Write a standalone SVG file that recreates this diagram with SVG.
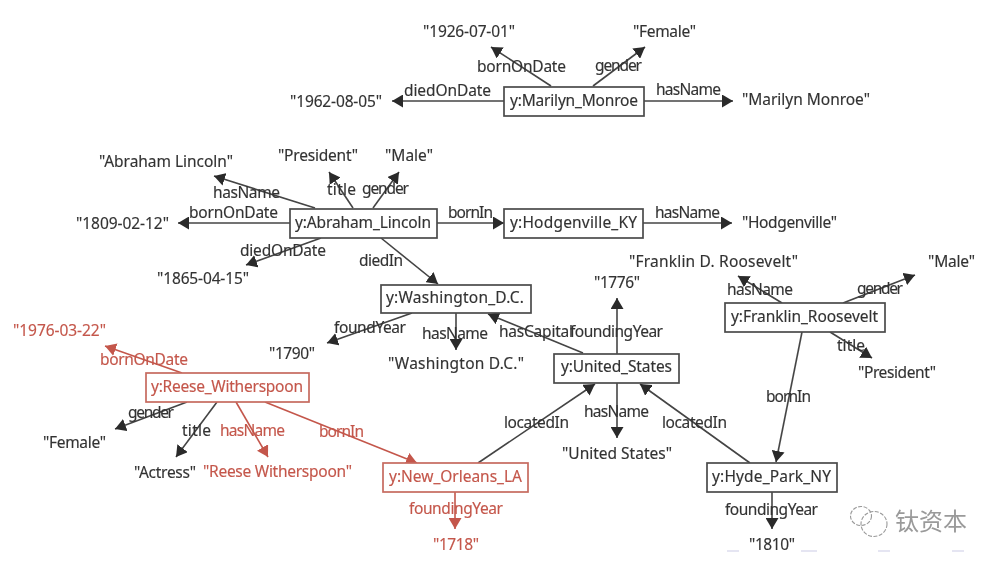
<svg xmlns="http://www.w3.org/2000/svg" width="1000" height="565" viewBox="0 0 1000 565">
<style>
text{font-family:"Noto Sans","DejaVu Sans",sans-serif;font-size:15.5px;fill:#333;stroke:#333;stroke-width:0.15}
.r text,text.r{fill:#c4574b;stroke:#c4574b}
rect{fill:#fff;stroke:#4a4a4a;stroke-width:1.7}
.r rect{stroke:#c66a5f}
.e{stroke:#444;stroke-width:1.6;fill:none;marker-end:url(#a)}
.e.r{stroke:#c4574b;marker-end:url(#b)}
.wm{fill:none;stroke:#999;stroke-width:1.1;stroke-dasharray:4 1.5}
text.wt{font-family:"Noto Sans CJK SC",sans-serif;font-size:24px;fill:#9a9a9a;stroke:none}
.f{stroke:#dde;stroke-width:1.5}
</style>
<defs>
<marker id="a" markerUnits="userSpaceOnUse" markerWidth="12" markerHeight="13" refX="11" refY="6.5" orient="auto"><path d="M0,0L11,6.5L0,13z" fill="#2a2a2a"/></marker>
<marker id="b" markerUnits="userSpaceOnUse" markerWidth="12" markerHeight="13" refX="11" refY="6.5" orient="auto"><path d="M0,0L11,6.5L0,13z" fill="#c4574b"/></marker>
<filter id="s" x="-2%" y="-2%" width="104%" height="104%"><feGaussianBlur stdDeviation="0.45"/></filter>
</defs>
<rect x="0" y="0" width="1000" height="565" style="stroke:none"/>
<g filter="url(#s)">
<g id="connectors">
<path class="e" d="M551,86L491,47"/>
<path class="e" d="M593,86L645,47"/>
<path class="e" d="M504,101L392,101"/>
<path class="e" d="M644,101L733,101"/>
<path class="e" d="M315,208L214,176"/>
<path class="e" d="M353,208L329,172"/>
<path class="e" d="M373,208L399,172"/>
<path class="e" d="M290,223L178,223"/>
<path class="e" d="M321,238L246,265"/>
<path class="e" d="M437,223L504,223"/>
<path class="e" d="M381,238L438,284"/>
<path class="e" d="M643,223L732,223"/>
<path class="e" d="M412,313L327,343"/>
<path class="e" d="M456,313L456,350"/>
<path class="e" d="M583,353L488,314"/>
<path class="e" d="M617,354L617,298"/>
<path class="e" d="M617,383L617,438"/>
<path class="e" d="M782,303L738,276"/>
<path class="e" d="M843,303L915,275"/>
<path class="e" d="M830,332L872,358"/>
<path class="e" d="M802,332L776,462"/>
<path class="e" d="M750,463L640,384"/>
<path class="e" d="M772,492L772,529"/>
<path class="e" d="M478,463L595,384"/>
<path class="e r" d="M455,492L455,529"/>
<path class="e r" d="M182,373L105,346"/>
<path class="e" d="M187,402L115,429"/>
<path class="e" d="M217,402L176,457"/>
<path class="e r" d="M236,402L268,457"/>
<path class="e r" d="M265,402L417,463"/>
</g>
<g id="edge-labels">
<text x="477" y="72" textLength="89">bornOnDate</text>
<text x="595" y="71" textLength="47">gender</text>
<text x="404" y="96" textLength="87">diedOnDate</text>
<text x="656" y="95" textLength="65">hasName</text>
<text x="213" y="198" textLength="67">hasName</text>
<text x="327" y="195" textLength="29">title</text>
<text x="362" y="194" textLength="47">gender</text>
<text x="189" y="218" textLength="89">bornOnDate</text>
<text x="448" y="218" textLength="45">bornIn</text>
<text x="655" y="218" textLength="65">hasName</text>
<text x="240" y="256" textLength="86">diedOnDate</text>
<text x="359" y="266" textLength="44">diedIn</text>
<text x="727" y="295" textLength="66">hasName</text>
<text x="857" y="294" textLength="46">gender</text>
<text x="334" y="333" textLength="72">foundYear</text>
<text x="422" y="339" textLength="66">hasName</text>
<text x="499" y="337" textLength="74">hasCapital</text>
<text x="570" y="337" textLength="93">foundingYear</text>
<text x="837" y="351" textLength="28">title</text>
<text class="r" x="100" y="365" textLength="88">bornOnDate</text>
<text x="128" y="418" textLength="46">gender</text>
<text x="182" y="436" textLength="29">title</text>
<text class="r" x="220" y="436" textLength="65">hasName</text>
<text class="r" x="319" y="437" textLength="45">bornIn</text>
<text x="504" y="428" textLength="65">locatedIn</text>
<text x="584" y="417" textLength="65">hasName</text>
<text x="662" y="428" textLength="65">locatedIn</text>
<text x="766" y="402" textLength="45">bornIn</text>
<text class="r" x="409" y="514" textLength="94">foundingYear</text>
<text x="725" y="515" textLength="93">foundingYear</text>
</g>
<g id="marilyn-monroe"><rect x="504" y="87" width="140" height="29"/><text x="510" y="106" textLength="128">y:Marilyn_Monroe</text></g>
<g id="abraham-lincoln"><rect x="290" y="209" width="147" height="29"/><text x="295" y="228" textLength="136">y:Abraham_Lincoln</text></g>
<g id="hodgenville"><rect x="504" y="209" width="139" height="29"/><text x="510" y="228" textLength="127">y:Hodgenville_KY</text></g>
<g id="washington"><rect x="381" y="285" width="150" height="28"/><text x="386" y="303" textLength="138">y:Washington_D.C.</text></g>
<g id="reese-witherspoon" class="r"><rect x="146" y="373" width="163" height="29"/><text x="151" y="392" textLength="152">y:Reese_Witherspoon</text></g>
<g id="new-orleans" class="r"><rect x="383" y="463" width="145" height="29"/><text x="389" y="482" textLength="133">y:New_Orleans_LA</text></g>
<g id="united-states"><rect x="554" y="354" width="125" height="29"/><text x="561" y="372" textLength="111">y:United_States</text></g>
<g id="franklin-roosevelt"><rect x="725" y="303" width="160" height="29"/><text x="731" y="322" textLength="147">y:Franklin_Roosevelt</text></g>
<g id="hyde-park"><rect x="707" y="463" width="130" height="29"/><text x="712" y="482" textLength="119">y:Hyde_Park_NY</text></g>
<g id="lit-mm-born"><text x="423" y="37" textLength="92">"1926-07-01"</text></g>
<g id="lit-mm-gender"><text x="633" y="37" textLength="63">"Female"</text></g>
<g id="lit-mm-died"><text x="290" y="107" textLength="92">"1962-08-05"</text></g>
<g id="lit-mm-name"><text x="742" y="105" textLength="128">"Marilyn Monroe"</text></g>
<g id="lit-al-name"><text x="99" y="167" textLength="134">"Abraham Lincoln"</text></g>
<g id="lit-al-title"><text x="278" y="161" textLength="80">"President"</text></g>
<g id="lit-al-gender"><text x="385" y="161" textLength="48">"Male"</text></g>
<g id="lit-al-born"><text x="76" y="229" textLength="93">"1809-02-12"</text></g>
<g id="lit-al-died"><text x="157" y="284" textLength="92">"1865-04-15"</text></g>
<g id="lit-hv-name"><text x="742" y="228" textLength="95">"Hodgenville"</text></g>
<g id="lit-fr-name"><text x="629" y="267" textLength="169">"Franklin D. Roosevelt"</text></g>
<g id="lit-fr-gender"><text x="928" y="267" textLength="47">"Male"</text></g>
<g id="lit-fr-title"><text x="858" y="378" textLength="78">"President"</text></g>
<g id="lit-us-year"><text x="594" y="288" textLength="46">"1776"</text></g>
<g id="lit-us-name"><text x="562" y="459" textLength="110">"United States"</text></g>
<g id="lit-dc-year"><text x="269" y="359" textLength="46">"1790"</text></g>
<g id="lit-dc-name"><text x="388" y="369" textLength="136">"Washington D.C."</text></g>
<g id="lit-rw-born" class="r"><text x="13" y="336" textLength="93">"1976-03-22"</text></g>
<g id="lit-rw-gender"><text x="43" y="448" textLength="63">"Female"</text></g>
<g id="lit-rw-title"><text x="134" y="478" textLength="62">"Actress"</text></g>
<g id="lit-rw-name" class="r"><text x="203" y="477" textLength="149">"Reese Witherspoon"</text></g>
<g id="lit-no-year" class="r"><text x="433" y="550" textLength="46">"1718"</text></g>
<g id="lit-hp-year"><text x="749" y="550" textLength="46">"1810"</text></g>
<g id="watermark">
<ellipse class="wm" cx="861" cy="516" rx="10.5" ry="9.5"/>
<ellipse class="wm" cx="874" cy="524" rx="13" ry="12.5"/>
<text class="wt" x="895" y="530" textLength="72">钛资本</text>
</g>
<g id="scan-marks">
<path class="f" d="M727,551h12M801,551h16M878,551h12M952,551h12"/>
</g>
</g>
</svg>
